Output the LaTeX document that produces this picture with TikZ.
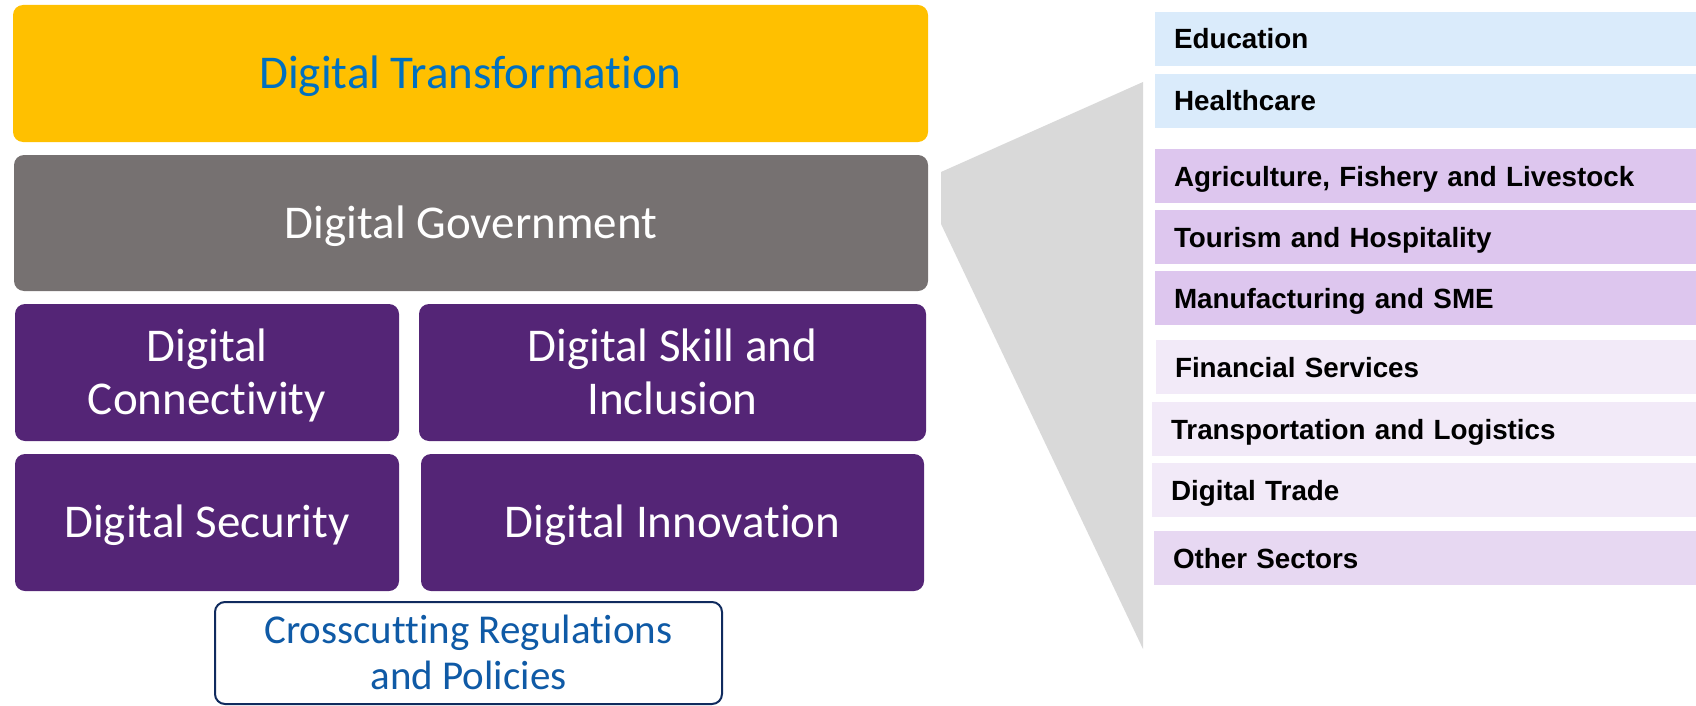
\documentclass[tikz,border=0pt]{standalone}
\usepackage{fontspec}
\setmainfont[Ligatures={NoCommon}]{Carlito}
\newfontfamily\arialfont{Liberation Sans}
\definecolor{dtyellow}{HTML}{FFC000}
\definecolor{dtblue}{HTML}{0070C0}
\definecolor{govgray}{HTML}{767171}
\definecolor{pillarpurple}{HTML}{542576}
\definecolor{crossnavy}{HTML}{102B5E}
\definecolor{crossblue}{HTML}{0F5AA6}
\definecolor{fangray}{HTML}{D9D9D9}
\definecolor{socialblue}{HTML}{DAEBFB}
\definecolor{econlilac}{HTML}{DDC6EE}
\definecolor{servlilac}{HTML}{F2EAF8}
\definecolor{otherlilac}{HTML}{E7D8F2}

\begin{document}
\begin{tikzpicture}[x=1pt, y=-1pt,
    pillar/.style={rectangle, rounded corners=10pt, anchor=north west, inner sep=0pt, outer sep=0pt,
        align=center, font=\fontsize{47}{53}\selectfont, text height=30pt, text depth=0pt},
    twoline/.style={text height=83pt},
    sector/.style={rectangle, anchor=north west, inner xsep=19pt, inner ysep=0pt, outer sep=0pt,
        minimum height=54pt, text width=503pt, align=left,
        font=\arialfont\bfseries\fontsize{27.8}{30}\selectfont, text height=20pt, text depth=0pt}]
    \useasboundingbox (0,0) rectangle (1696,706);

    % Layers
    \node[pillar, fill=dtyellow, text=dtblue, minimum width=915pt, minimum height=137pt] (trans) at (13,5) {Digital Transformation};
    \node[pillar, fill=govgray, text=white, minimum width=914pt, minimum height=136pt] (gov) at (14,155) {Digital Government};
    \node[pillar, twoline, fill=pillarpurple, text=white, minimum width=384pt, minimum height=137pt] (conn) at (15,304) {Digital\\Connectivity};
    \node[pillar, twoline, fill=pillarpurple, text=white, minimum width=507pt, minimum height=137pt] (skill) at (419,304) {Digital Skill and\\Inclusion};
    \node[pillar, fill=pillarpurple, text=white, minimum width=384pt, minimum height=137pt] (secu) at (15,454) {Digital Security};
    \node[pillar, fill=pillarpurple, text=white, minimum width=503pt, minimum height=137pt] (innov) at (421,454) {Digital Innovation};
    \node[pillar, draw=crossnavy, line width=2pt, fill=white, text=crossblue, minimum width=507pt, minimum height=102pt,
        font=\fontsize{41}{46}\selectfont, text height=72pt, text depth=0pt] (cross) at (215,602) {Crosscutting Regulations\\and Policies};

    % Fan
    \fill[fangray] (941,172) -- (1143,82) -- (1143,649) -- (941,224) -- cycle;

    % Sectors
    \node[sector, fill=socialblue] (edu) at (1155,12) {Education};
    \node[sector, fill=socialblue] (health) at (1155,74) {Healthcare};
    \node[sector, fill=econlilac] (agri) at (1155,149) {Agriculture, Fishery and Livestock};
    \node[sector, fill=econlilac] (tour) at (1155,210) {Tourism and Hospitality};
    \node[sector, fill=econlilac] (manu) at (1155,271) {Manufacturing and SME};
    \node[sector, fill=servlilac, text width=502pt] (fin) at (1156,340) {Financial Services};
    \node[sector, fill=servlilac, text width=506pt] (transp) at (1152,402) {Transportation and Logistics};
    \node[sector, fill=servlilac, text width=506pt] (trade) at (1152,463) {Digital Trade};
    \node[sector, fill=otherlilac, text width=504pt] (other) at (1154,531) {Other Sectors};
\end{tikzpicture}
\end{document}
